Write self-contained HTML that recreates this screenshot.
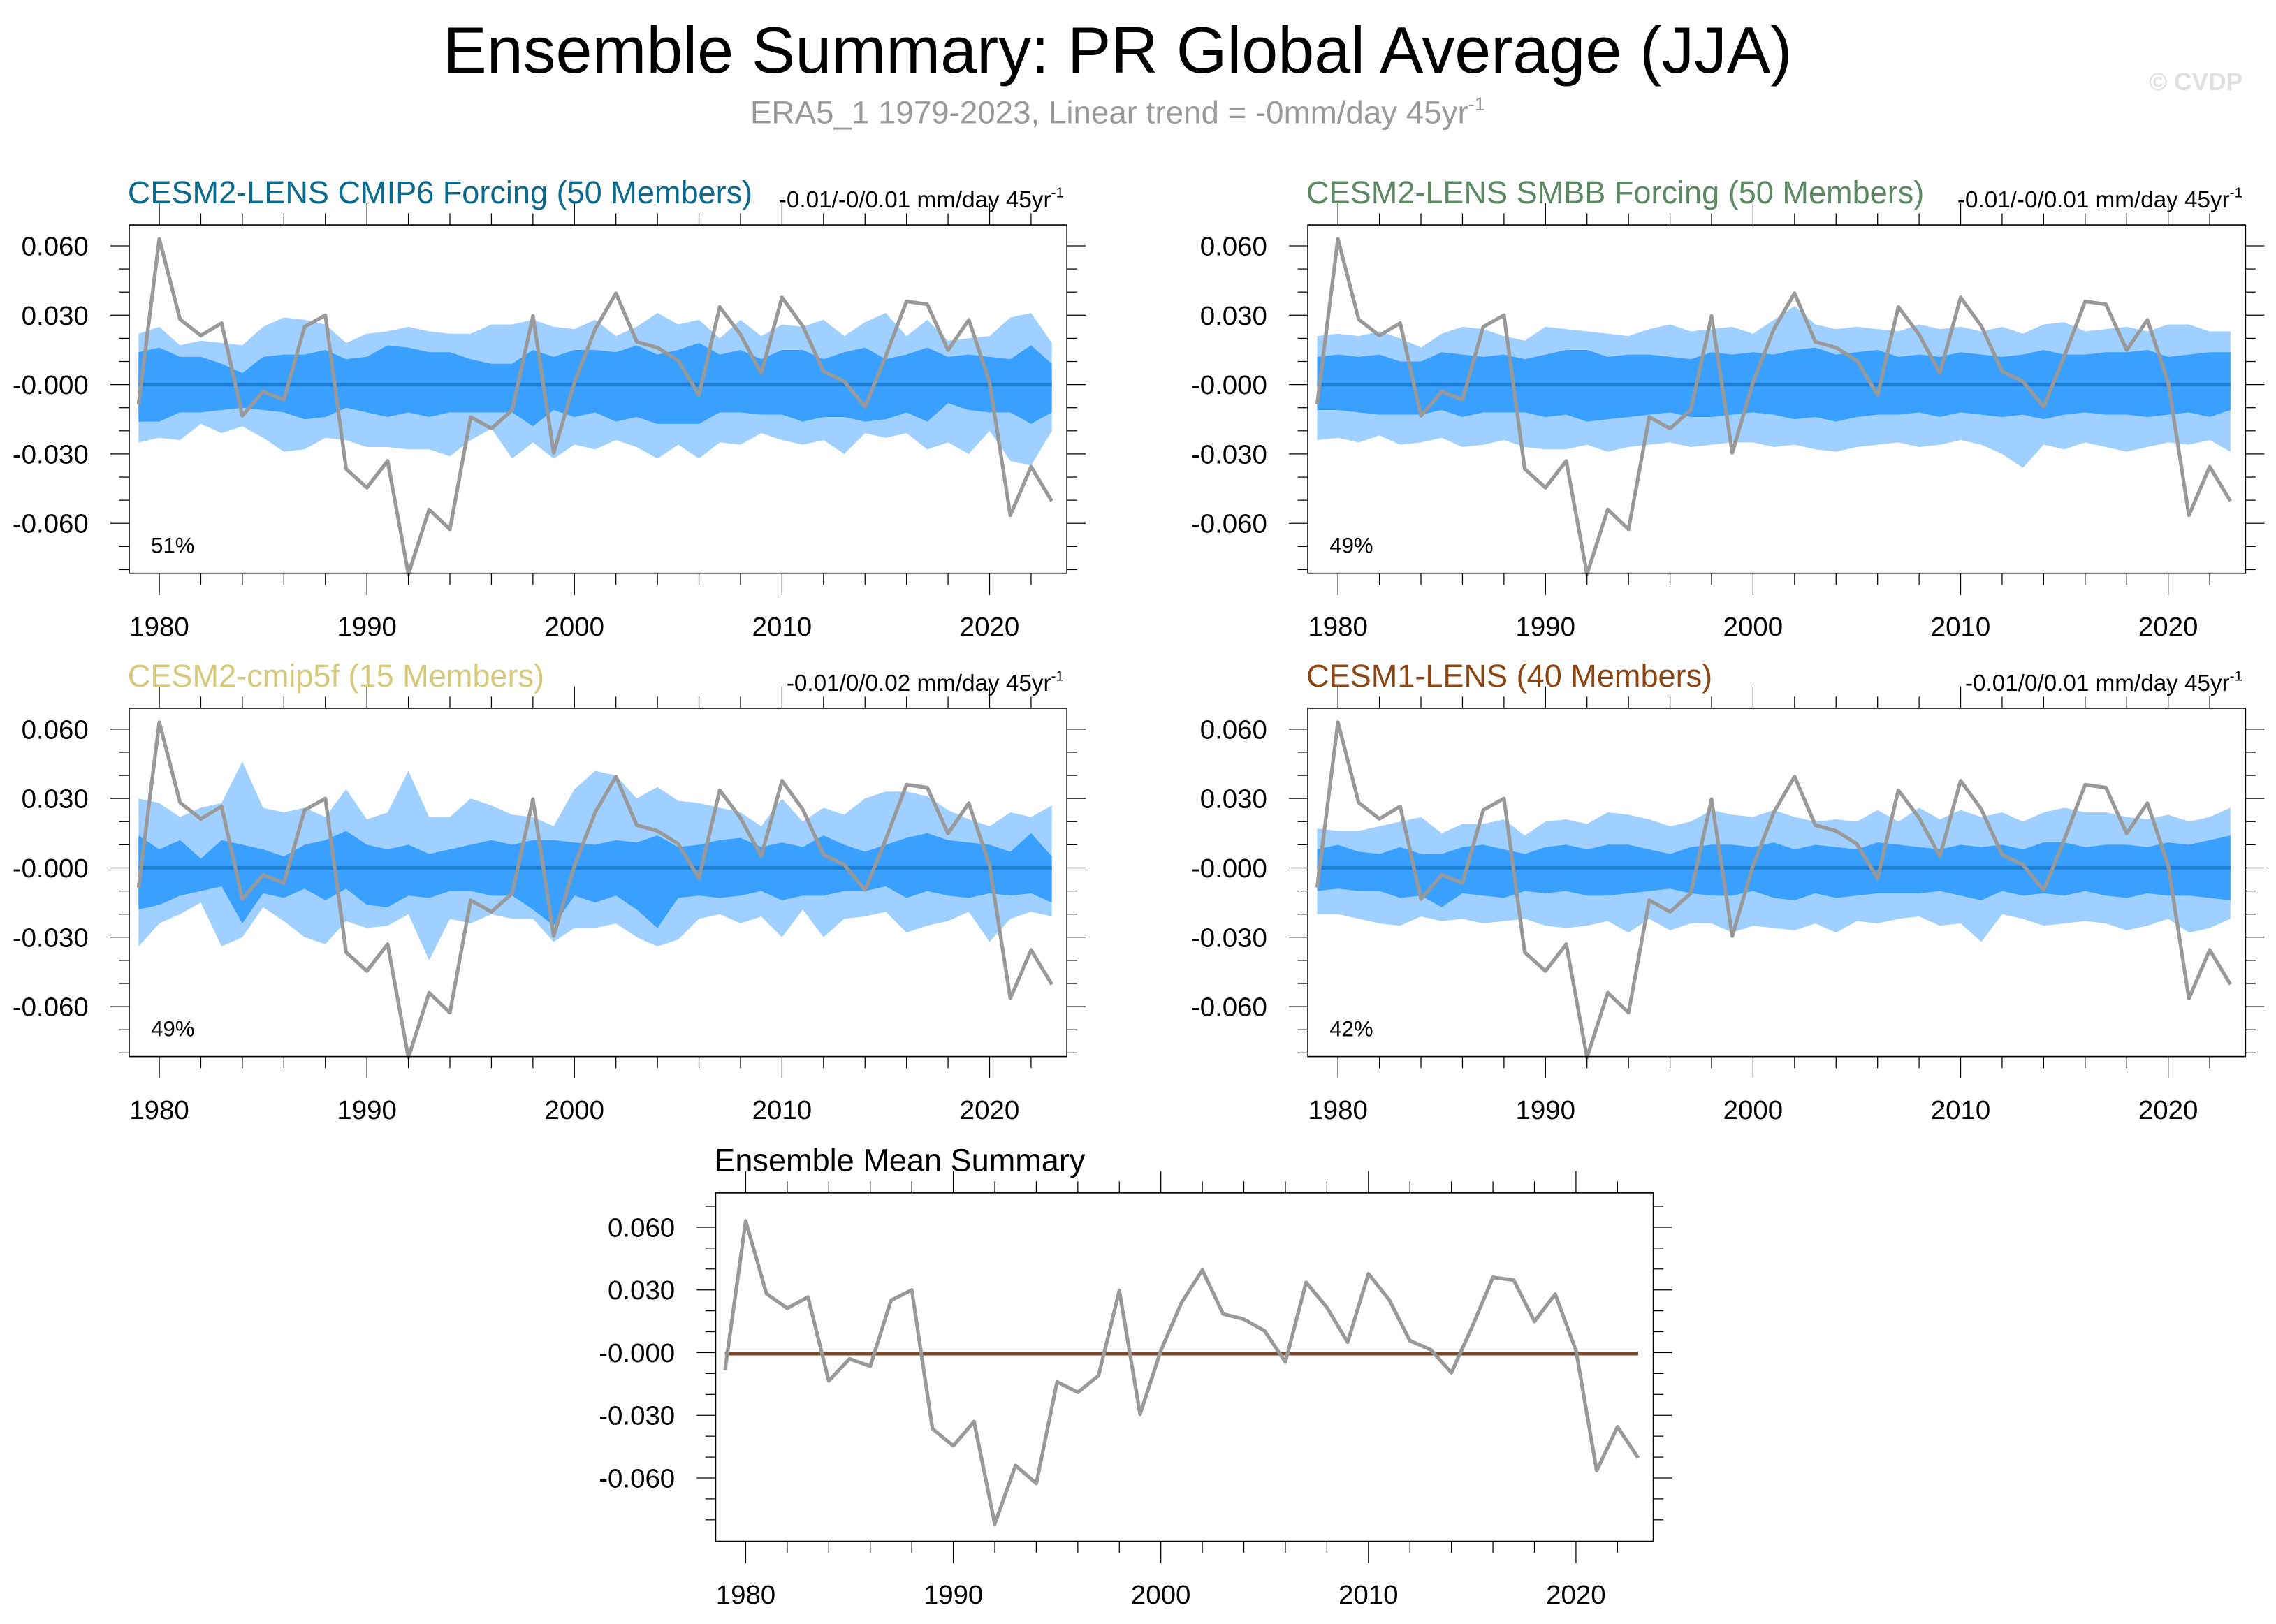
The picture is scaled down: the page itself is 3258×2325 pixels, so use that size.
<!DOCTYPE html>
<html><head><meta charset="utf-8"><style>
html,body{margin:0;padding:0;background:#fff}
svg{display:block}
text{font-family:"Liberation Sans",sans-serif}
</style></head><body>
<svg id="chart" width="3258" height="2325" viewBox="0 0 1568 1119" xmlns="http://www.w3.org/2000/svg">
<rect width="1568" height="1119" fill="#fff"/>
<text x="770" y="50" font-size="45" text-anchor="middle" fill="#000">Ensemble Summary: PR Global Average (JJA)</text>
<text x="770" y="85" font-size="22" text-anchor="middle" fill="#999">ERA5_1 1979-2023, Linear trend = -0mm/day 45yr<tspan dy="-9" font-size="13">-1</tspan></text>
<text x="1545" y="62" font-size="17" font-weight="bold" text-anchor="end" fill="#e0e0e0">© CVDP</text>
<g id="panels"></g>
</svg>
<script>
const years=[];for(let y=1979;y<=2023;y++)years.push(y);
const obs=[-0.0085,0.063,0.0282,0.0212,0.0266,-0.0135,-0.003,-0.0065,0.025,0.030,-0.0365,-0.0446,-0.033,-0.082,-0.054,-0.0626,-0.014,-0.019,-0.011,0.0297,-0.0295,0.001,0.024,0.0395,0.0185,0.016,0.0104,-0.0045,0.0336,0.0216,0.005,0.0377,0.0253,0.0057,0.0014,-0.0096,0.0124,0.036,0.0347,0.0149,0.028,0.001,-0.0565,-0.0355,-0.0504];
const ou1=[0.022,0.025,0.017,0.019,0.018,0.017,0.025,0.029,0.028,0.026,0.018,0.022,0.023,0.025,0.023,0.022,0.022,0.026,0.026,0.028,0.025,0.024,0.028,0.021,0.025,0.031,0.026,0.028,0.020,0.028,0.021,0.026,0.025,0.028,0.021,0.027,0.031,0.021,0.028,0.019,0.020,0.021,0.029,0.031,0.018];
const iu1=[0.014,0.016,0.012,0.012,0.009,0.005,0.012,0.013,0.013,0.015,0.011,0.012,0.017,0.016,0.014,0.014,0.011,0.009,0.009,0.015,0.012,0.015,0.015,0.014,0.017,0.013,0.015,0.018,0.013,0.015,0.011,0.015,0.015,0.011,0.014,0.016,0.011,0.013,0.016,0.012,0.013,0.012,0.011,0.017,0.009];
const il1=[-0.016,-0.016,-0.012,-0.012,-0.011,-0.010,-0.011,-0.012,-0.015,-0.014,-0.010,-0.012,-0.014,-0.012,-0.014,-0.012,-0.012,-0.012,-0.012,-0.018,-0.011,-0.014,-0.012,-0.016,-0.014,-0.017,-0.017,-0.017,-0.012,-0.012,-0.013,-0.013,-0.016,-0.014,-0.014,-0.016,-0.015,-0.012,-0.016,-0.008,-0.011,-0.012,-0.012,-0.017,-0.012];
const ol1=[-0.025,-0.023,-0.024,-0.017,-0.021,-0.018,-0.023,-0.029,-0.028,-0.023,-0.024,-0.027,-0.027,-0.028,-0.028,-0.031,-0.024,-0.019,-0.032,-0.025,-0.032,-0.026,-0.028,-0.024,-0.027,-0.032,-0.026,-0.032,-0.025,-0.026,-0.021,-0.024,-0.026,-0.024,-0.030,-0.021,-0.023,-0.021,-0.028,-0.025,-0.030,-0.020,-0.033,-0.035,-0.020];
const ou2=[0.021,0.022,0.021,0.023,0.020,0.016,0.022,0.025,0.024,0.021,0.019,0.025,0.024,0.023,0.022,0.021,0.024,0.026,0.023,0.024,0.025,0.022,0.028,0.034,0.026,0.024,0.025,0.024,0.023,0.026,0.024,0.025,0.023,0.025,0.022,0.026,0.027,0.023,0.024,0.025,0.023,0.026,0.026,0.023,0.023];
const iu2=[0.012,0.013,0.012,0.013,0.010,0.010,0.014,0.013,0.012,0.013,0.011,0.013,0.015,0.015,0.012,0.013,0.013,0.012,0.011,0.014,0.013,0.014,0.013,0.015,0.016,0.013,0.014,0.015,0.012,0.013,0.012,0.014,0.013,0.012,0.013,0.015,0.013,0.013,0.014,0.014,0.015,0.012,0.013,0.014,0.014];
const il2=[-0.011,-0.011,-0.012,-0.013,-0.013,-0.013,-0.011,-0.014,-0.012,-0.012,-0.012,-0.014,-0.013,-0.016,-0.015,-0.014,-0.013,-0.012,-0.014,-0.014,-0.013,-0.012,-0.013,-0.015,-0.014,-0.016,-0.014,-0.013,-0.013,-0.012,-0.014,-0.012,-0.013,-0.014,-0.013,-0.015,-0.013,-0.012,-0.013,-0.013,-0.014,-0.013,-0.012,-0.014,-0.011];
const ol2=[-0.024,-0.023,-0.025,-0.022,-0.026,-0.025,-0.023,-0.027,-0.026,-0.024,-0.027,-0.028,-0.028,-0.026,-0.029,-0.027,-0.026,-0.025,-0.027,-0.026,-0.025,-0.025,-0.027,-0.026,-0.028,-0.029,-0.027,-0.026,-0.025,-0.027,-0.026,-0.024,-0.026,-0.030,-0.036,-0.026,-0.028,-0.025,-0.027,-0.029,-0.027,-0.025,-0.026,-0.024,-0.029];
const ou3=[0.030,0.028,0.022,0.026,0.028,0.046,0.026,0.024,0.026,0.022,0.034,0.021,0.024,0.042,0.022,0.022,0.030,0.027,0.023,0.022,0.018,0.034,0.042,0.040,0.030,0.035,0.029,0.028,0.026,0.024,0.018,0.030,0.020,0.026,0.023,0.030,0.033,0.033,0.031,0.025,0.021,0.018,0.024,0.022,0.027];
const iu3=[0.014,0.008,0.012,0.004,0.012,0.010,0.008,0.005,0.010,0.012,0.016,0.010,0.008,0.010,0.006,0.008,0.010,0.012,0.010,0.012,0.012,0.011,0.010,0.012,0.011,0.014,0.009,0.010,0.012,0.013,0.009,0.011,0.009,0.014,0.010,0.007,0.010,0.013,0.015,0.012,0.011,0.010,0.007,0.015,0.005];
const il3=[-0.018,-0.016,-0.012,-0.010,-0.008,-0.024,-0.011,-0.013,-0.009,-0.014,-0.009,-0.016,-0.017,-0.012,-0.013,-0.010,-0.010,-0.012,-0.012,-0.018,-0.025,-0.012,-0.015,-0.012,-0.018,-0.026,-0.013,-0.012,-0.013,-0.012,-0.010,-0.014,-0.012,-0.012,-0.010,-0.010,-0.008,-0.013,-0.010,-0.012,-0.013,-0.011,-0.012,-0.011,-0.015];
const ol3=[-0.034,-0.024,-0.020,-0.015,-0.034,-0.030,-0.017,-0.023,-0.030,-0.033,-0.023,-0.026,-0.025,-0.020,-0.040,-0.022,-0.024,-0.020,-0.022,-0.022,-0.032,-0.026,-0.026,-0.024,-0.030,-0.034,-0.031,-0.022,-0.020,-0.024,-0.021,-0.030,-0.018,-0.030,-0.022,-0.021,-0.019,-0.028,-0.025,-0.023,-0.019,-0.032,-0.022,-0.019,-0.021];
const ou4=[0.017,0.016,0.016,0.018,0.020,0.022,0.015,0.019,0.019,0.021,0.014,0.020,0.021,0.019,0.024,0.023,0.021,0.018,0.020,0.025,0.023,0.022,0.025,0.022,0.020,0.021,0.020,0.025,0.020,0.026,0.021,0.025,0.022,0.024,0.020,0.024,0.026,0.024,0.024,0.022,0.021,0.023,0.020,0.022,0.026];
const iu4=[0.008,0.010,0.007,0.006,0.009,0.006,0.006,0.009,0.010,0.008,0.006,0.009,0.010,0.008,0.010,0.010,0.008,0.006,0.009,0.010,0.010,0.009,0.011,0.008,0.010,0.009,0.008,0.011,0.010,0.009,0.008,0.010,0.009,0.010,0.008,0.011,0.011,0.009,0.010,0.010,0.009,0.011,0.010,0.012,0.014];
const il4=[-0.010,-0.009,-0.010,-0.010,-0.013,-0.012,-0.017,-0.011,-0.012,-0.013,-0.010,-0.011,-0.010,-0.012,-0.012,-0.011,-0.010,-0.009,-0.011,-0.012,-0.012,-0.010,-0.013,-0.014,-0.011,-0.013,-0.012,-0.011,-0.011,-0.011,-0.010,-0.012,-0.014,-0.010,-0.012,-0.011,-0.012,-0.010,-0.012,-0.013,-0.011,-0.012,-0.012,-0.013,-0.014];
const ol4=[-0.020,-0.020,-0.022,-0.024,-0.025,-0.021,-0.023,-0.022,-0.024,-0.023,-0.022,-0.025,-0.026,-0.025,-0.023,-0.028,-0.022,-0.027,-0.024,-0.024,-0.028,-0.025,-0.026,-0.027,-0.024,-0.028,-0.023,-0.024,-0.022,-0.021,-0.025,-0.024,-0.032,-0.020,-0.022,-0.025,-0.024,-0.023,-0.024,-0.027,-0.025,-0.022,-0.028,-0.026,-0.022];
const ensMean=[-0.0005,-0.0005,-0.0005,-0.0005,-0.0005,-0.0005,-0.0005,-0.0005,-0.0005,-0.0005,-0.0005,-0.0005,-0.0005,-0.0005,-0.0005,-0.0005,-0.0005,-0.0005,-0.0005,-0.0005,-0.0005,-0.0005,-0.0005,-0.0005,-0.0005,-0.0005,-0.0005,-0.0005,-0.0005,-0.0005,-0.0005,-0.0005,-0.0005,-0.0005,-0.0005,-0.0005,-0.0005,-0.0005,-0.0005,-0.0005,-0.0005,-0.0005,-0.0005,-0.0005,-0.0005];
const zeroLine=years.map(()=>0);
const yTicks=[0.06,0.03,0,-0.03,-0.06];
const yTickLabels=["0.060","0.030","-0.000","-0.030","-0.060"];
const xTicks=[1980,1990,2000,2010,2020];

const NS="http://www.w3.org/2000/svg";
const root=document.getElementById('panels');
function el(tag,attrs,parent){const e=document.createElementNS(NS,tag);for(const k in attrs)e.setAttribute(k,attrs[k]);(parent||root).appendChild(e);return e;}

function panel(p){
  const g=el('g',{});
  
  
  const L=p.left,R=p.left+646,T=p.top,B=p.top+240;
  const y0=p.zeroY, k=p.scale;
  const x=yr=>L+(yr-1978.55)*14.3;
  const y=v=>y0-v*k;
  const vmin=(y0-B)/k, vmax=(y0-T)/k;
  const band=(up,lo,col,nm)=>{
    let d='M'+years.map((yr,i)=>x(yr)+','+y(up[i])).join('L')+'L'+years.slice().reverse().map((yr,j)=>{const i=years.length-1-j;return x(yr)+','+y(lo[i]);}).join('L')+'Z';
    const b=el('path',{d:d,fill:col,stroke:'none'},g);
    
    
  };
  if(p.ou){band(p.ou,p.ol,'#a0d0ff','outer-spread-band');band(p.iu,p.il,'#3aa0ff','inner-spread-band');}
  const line=(vals,col,w,nm)=>{
    const l=el('path',{d:'M'+years.map((yr,i)=>x(yr)+','+y(vals[i])).join('L'),fill:'none',stroke:col,'stroke-width':w,'stroke-linejoin':'round'},g);
    
    
  };
  line(p.meanVals,p.meanCol,2.5,'ensemble-mean-line');
  line(obs,'#999999',2.5,'observed-line');
  const f=el('rect',{x:L,y:T,width:646,height:240,fill:'none',stroke:'#000','stroke-width':0.8},g);
  
  
  for(let yr=1980;yr<=2022;yr+=2){
    const major=yr%10===0, len=major?15:8, xx=x(yr);
    el('line',{x1:xx,x2:xx,y1:B,y2:B+len,stroke:'#000','stroke-width':0.6},g);
    el('line',{x1:xx,x2:xx,y1:T,y2:T-len,stroke:'#000','stroke-width':0.6},g);
  }
  xTicks.forEach(t=>{
    const tx=el('text',{x:x(t),y:B+43,'font-size':18.5,'text-anchor':'middle'},g);
    tx.textContent=t;
    
    
  });
  for(let v=-0.08;v<=0.0701;v+=0.01){
    const vv=Math.round(v*100)/100;
    if(vv<vmin||vv>vmax)continue;
    const major=Math.abs(Math.round(vv*100))%3===0, len=major?13:7, yy=y(vv);
    el('line',{x1:L,x2:L-len,y1:yy,y2:yy,stroke:'#000','stroke-width':0.6},g);
    el('line',{x1:R,x2:R+len,y1:yy,y2:yy,stroke:'#000','stroke-width':0.6},g);
  }
  yTicks.forEach((t,i)=>{
    const tx=el('text',{x:L-28,y:y(t)+6.5,'font-size':18.5,'text-anchor':'end'},g);
    tx.textContent=yTickLabels[i];
    
    
  });
  const ti=el('text',{x:L-1,y:T-15,'font-size':21.7,fill:p.titleCol},g);
  ti.textContent=p.title;
  
  
  if(p.trend){
    const tr=el('text',{x:R-2,y:T-12,'font-size':16,'text-anchor':'end'},g);
    tr.textContent=p.trend;
    const sp=el('tspan',{dy:-7,'font-size':10},tr);sp.textContent='-1';
    
    
  }
  if(p.pct){
    const pc=el('text',{x:L+15,y:B-14,'font-size':15},g);
    pc.textContent=p.pct;
    
    
  }
}
const S=1593.3;
panel({name:'panel-cesm2-cmip6',left:89,top:155,zeroY:265,scale:S,ou:ou1,iu:iu1,il:il1,ol:ol1,meanVals:zeroLine,meanCol:'#1e7fd6',title:'CESM2-LENS CMIP6 Forcing (50 Members)',titleCol:'#0b6b8f',trend:'-0.01/-0/0.01 mm/day 45yr',pct:'51%'});
panel({name:'panel-cesm2-smbb',left:901,top:155,zeroY:265,scale:S,ou:ou2,iu:iu2,il:il2,ol:ol2,meanVals:zeroLine,meanCol:'#1e7fd6',title:'CESM2-LENS SMBB Forcing (50 Members)',titleCol:'#5b8a62',trend:'-0.01/-0/0.01 mm/day 45yr',pct:'49%'});
panel({name:'panel-cesm2-cmip5f',left:89,top:488,zeroY:598,scale:S,ou:ou3,iu:iu3,il:il3,ol:ol3,meanVals:zeroLine,meanCol:'#1e7fd6',title:'CESM2-cmip5f (15 Members)',titleCol:'#d6c97c',trend:'-0.01/0/0.02 mm/day 45yr',pct:'49%'});
panel({name:'panel-cesm1-lens',left:901,top:488,zeroY:598,scale:S,ou:ou4,iu:iu4,il:il4,ol:ol4,meanVals:zeroLine,meanCol:'#1e7fd6',title:'CESM1-LENS (40 Members)',titleCol:'#8b4513',trend:'-0.01/0/0.01 mm/day 45yr',pct:'42%'});
panel({name:'panel-ensemble-mean-summary',left:493,top:822,zeroY:932,scale:1440,meanVals:ensMean,meanCol:'#7a4a2a',title:'Ensemble Mean Summary',titleCol:'#000'});
</script>
</body></html>
